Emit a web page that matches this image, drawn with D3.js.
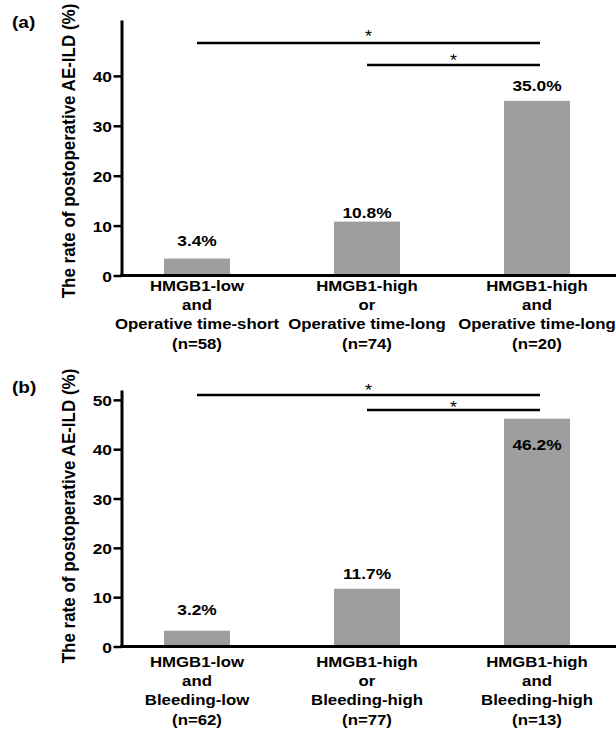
<!DOCTYPE html>
<html>
<head>
<meta charset="utf-8">
<script src="https://cdn.jsdelivr.net/npm/d3@7"></script>
<style>
body { margin: 0; background: #fff; }
svg { display: block; font-family: "Liberation Sans", Arial, Helvetica, sans-serif; }
</style>
</head>
<body>
<div id="chart"></div>
<script>
// panel (a) data
var categoriesA = [
    ["HMGB1-low", "and", "Operative time-short", "(n=58)"],
    ["HMGB1-high", "or", "Operative time-long", "(n=74)"],
    ["HMGB1-high", "and", "Operative time-long", "(n=20)"]
];
var valuesA = [3.4, 10.8, 35.0];
var ticksA = [0, 10, 20, 30, 40];

// panel (b) data
var categoriesB = [
    ["HMGB1-low", "and", "Bleeding-low", "(n=62)"],
    ["HMGB1-high", "or", "Bleeding-high", "(n=77)"],
    ["HMGB1-high", "and", "Bleeding-high", "(n=13)"]
];
var valuesB = [3.2, 11.7, 46.2];
var ticksB = [0, 10, 20, 30, 40, 50];

var sigPairs = [[0, 2], [1, 2]];
var sigMarks = ["*", "*"];
var yTitle = "The rate of postoperative AE-ILD (%)";

var width = 616, height = 729;
var stretch = 1.12; // the source figure is a bit wide
var axisX = 121.5;

var svg = d3.select("#chart").append("svg")
    .attr("width", width)
    .attr("height", height);

function panel(opt) {
    var g = svg.append("g");
    var n = opt.values.length;

    var x = d3.scalePoint()
        .domain(d3.range(n))
        .range([197, 537]);
    var y = d3.scaleLinear()
        .domain([0, opt.yMax])
        .range([opt.zero, opt.top]);
    var barWidth = 66;

    // bars
    g.selectAll(".bar")
        .data(opt.values)
        .enter().append("rect")
        .attr("class", "bar")
        .attr("x", function(d, i) { return x(i) - barWidth / 2; })
        .attr("y", function(d) { return y(d); })
        .attr("width", barWidth)
        .attr("height", function(d) { return y(0) - y(d); })
        .style("fill", "#9e9e9e");

    // value labels (placed by hand in the original, offsets per bar)
    g.selectAll(".val")
        .data(opt.values)
        .enter().append("text")
        .attr("class", "val")
        .attr("text-anchor", "middle")
        .attr("transform", function(d, i) {
            return "translate(" + x(i) + "," + (y(d) + opt.valDy[i]) + ") scale(" + stretch + ",1)";
        })
        .style("font-size", "15.5px")
        .style("font-weight", "bold")
        .style("fill", "#000")
        .text(function(d) { return d.toFixed(1) + "%"; });

    // y axis
    var yAxis = d3.axisLeft(y)
        .tickValues(opt.ticks)
        .tickSize(8)
        .tickSizeOuter(0)
        .tickFormat(d3.format("d"));
    var ay = g.append("g")
        .attr("transform", "translate(" + axisX + ",0)")
        .call(yAxis);
    ay.select(".domain").style("stroke", "#000").style("stroke-width", 3);
    ay.selectAll(".tick line").style("stroke", "#000").style("stroke-width", 2.5);
    ay.selectAll(".tick text")
        .attr("x", -8.5)
        .attr("dy", "0.36em")
        .attr("transform", "scale(" + stretch + ",1)")
        .style("font-size", "15.5px")
        .style("font-weight", "bold")
        .style("font-family", "Liberation Sans, Arial, sans-serif")
        .style("fill", "#000");

    // x axis baseline
    g.append("line")
        .attr("x1", axisX - 1.5)
        .attr("x2", width)
        .attr("y1", y(0))
        .attr("y2", y(0))
        .style("stroke", "#000")
        .style("stroke-width", 3);

    // category labels
    var cat = g.selectAll(".cat")
        .data(opt.categories)
        .enter().append("text")
        .attr("class", "cat")
        .attr("text-anchor", "middle")
        .attr("transform", function(d, i) {
            return "translate(" + x(i) + "," + (y(0) + opt.catGap) + ") scale(" + stretch + ",1)";
        })
        .style("font-size", "15px")
        .style("font-weight", "bold")
        .style("fill", "#000");
    cat.selectAll("tspan")
        .data(function(d) { return d; })
        .enter().append("tspan")
        .attr("x", 0)
        .attr("y", function(d, j) { return j * 19.5; })
        .text(function(d) { return d; });

    // significance brackets
    sigPairs.forEach(function(p, k) {
        var by = opt.bracketY[k];
        g.append("line")
            .attr("x1", x(p[0]))
            .attr("x2", x(p[1]) + 3)
            .attr("y1", by)
            .attr("y2", by)
            .style("stroke", "#000")
            .style("stroke-width", 2.5);
        g.append("text")
            .attr("text-anchor", "middle")
            .attr("transform", "translate(" + ((x(p[0]) + x(p[1]) + 3) / 2) + "," + (by + opt.starDy[k]) + ") scale(" + stretch + ",1)")
            .style("font-size", "16px")
            .style("fill", "#000")
            .text(sigMarks[k]);
    });

    // y title
    g.append("text")
        .attr("text-anchor", "middle")
        .attr("transform", "translate(74.5," + opt.titleY + ") scale(" + stretch + ",1) rotate(-90)")
        .style("font-size", "17px")
        .style("font-weight", "bold")
        .style("fill", "#000")
        .text(yTitle);

    // panel letter
    g.append("text")
        .attr("transform", "translate(12," + opt.letterY + ") scale(" + stretch + ",1)")
        .style("font-size", "17px")
        .style("font-weight", "bold")
        .style("fill", "#000")
        .text(opt.letter);
}

panel({
    categories: categoriesA, values: valuesA, ticks: ticksA,
    letter: "(a)", top: 20, zero: 275.5, yMax: 51.2,
    valDy: [-13, -4, -10], catGap: 15,
    bracketY: [43, 65], starDy: [-1, 1], titleY: 151, letterY: 28
});

panel({
    categories: categoriesB, values: valuesB, ticks: ticksB,
    letter: "(b)", top: 390, zero: 646.5, yMax: 52,
    valDy: [-15.5, -9.5, 31], catGap: 20,
    bracketY: [395, 410], starDy: [1, 2.5], titleY: 516, letterY: 393
});
</script>
</body>
</html>
